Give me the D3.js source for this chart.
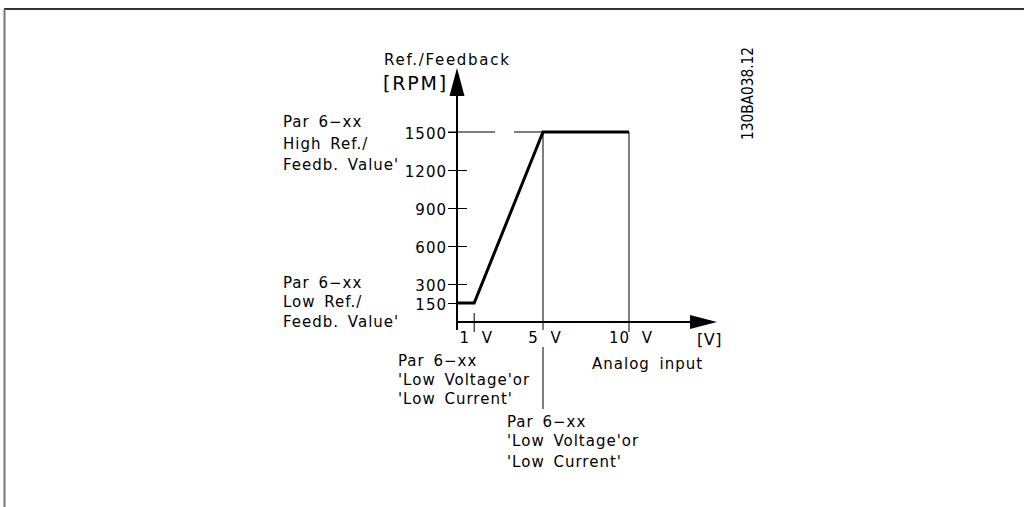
<!DOCTYPE html>
<html>
<head>
<meta charset="utf-8">
<script src="https://cdn.jsdelivr.net/npm/d3@7"></script>
<style>
  html, body { margin: 0; padding: 0; background: #fff; }
  svg { display: block; }
  text { font-family: "DejaVu Sans", sans-serif; fill: #000; }
</style>
</head>
<body>
<svg id="chart" width="1024" height="507"></svg>
<script>
// Reference / feedback scaling against analog input
const inputVolts = [0, 1, 5, 10];
const refRpm = [150, 150, 1500, 1500];
const yTickValues = [150, 300, 600, 900, 1200, 1500];
const yTickLabels = ["150", "300", "600", "900", "1200", "1500"];
const xTickValues = [1, 5, 10];
const xTickLabels = ["1 V", "5 V", "10 V"];
const highRefLabel = ["Par 6\u2212xx", "High Ref./", "Feedb. Value'"];
const lowRefLabel = ["Par 6\u2212xx", "Low Ref./", "Feedb. Value'"];
const lowInputLabel = ["Par 6\u2212xx", "'Low Voltage'or", "'Low Current'"];
const highInputLabel = ["Par 6\u2212xx", "'Low Voltage'or", "'Low Current'"];
const drawingId = "130BA038.12";

const svg = d3.select("#chart");

// frame
svg.append("line").attr("x1", 4).attr("y1", 9).attr("x2", 1024).attr("y2", 9)
  .attr("stroke", "#333").attr("stroke-width", 2);
svg.append("line").attr("x1", 4.5).attr("y1", 9).attr("x2", 4.5).attr("y2", 507)
  .attr("stroke", "#777").attr("stroke-width", 2);

const x = d3.scaleLinear().domain([0, 10]).range([457, 629]);
const y = d3.scaleLinear().domain([0, 1500]).range([322, 132]);

const g = svg.append("g");

// y axis with ticks crossing the axis line
const yAxis = d3.axisLeft(y).tickValues(yTickValues).tickSize(9).tickFormat((d, i) => yTickLabels[i]);
const ya = g.append("g").attr("transform", `translate(${x(0)},0)`).call(yAxis);
ya.select(".domain").remove();
ya.selectAll(".tick line").attr("x1", d => d === 150 ? 0 : 10).attr("stroke", "#000").attr("stroke-width", 1);
ya.selectAll(".tick text").attr("x", -10).attr("dy", "0.42em")
  .style("font-size", "15px").style("letter-spacing", "1px").style("font-family", "DejaVu Sans");
ya.selectAll(".tick").filter(d => d === 1500).select("line").attr("x1", 0);

// axis lines
g.append("line").attr("x1", x(0)).attr("x2", x(0)).attr("y1", 330).attr("y2", 92)
  .attr("stroke", "#000").attr("stroke-width", 2);
g.append("line").attr("x1", x(0) - 1).attr("x2", 695).attr("y1", y(0)).attr("y2", y(0))
  .attr("stroke", "#000").attr("stroke-width", 2);
// arrow heads
g.append("path").attr("d", `M${x(0)},68 L${x(0) + 7.5},96 L${x(0) - 7.5},96 Z`).attr("fill", "#000");
g.append("path").attr("d", `M717,${y(0)} L690,${y(0) - 7} L690,${y(0) + 7} Z`).attr("fill", "#000");

// 1500 guide line from the axis to the 5 V point
g.append("line").attr("x1", 448).attr("x2", x(5)).attr("y1", y(1500)).attr("y2", y(1500))
  .attr("stroke", "#000").attr("stroke-width", 1)
  .attr("stroke-dasharray", "47,19");

// x ticks
g.append("line").attr("x1", x(0)).attr("x2", x(0)).attr("y1", y(0)).attr("y2", 330)
  .attr("stroke", "#000").attr("stroke-width", 1);
g.append("line").attr("x1", x(1)).attr("x2", x(1)).attr("y1", 313).attr("y2", 332)
  .attr("stroke", "#000").attr("stroke-width", 1);
// 5 V guide: broken around its label
g.append("line").attr("x1", x(5)).attr("x2", x(5)).attr("y1", y(1500)).attr("y2", 330)
  .attr("stroke", "#000").attr("stroke-width", 1);
g.append("line").attr("x1", x(5)).attr("x2", x(5)).attr("y1", 347).attr("y2", 409)
  .attr("stroke", "#000").attr("stroke-width", 1);
// 10 V guide
g.append("line").attr("x1", x(10)).attr("x2", x(10)).attr("y1", y(1500)).attr("y2", 332)
  .attr("stroke", "#000").attr("stroke-width", 1);

g.selectAll("text.xt").data(xTickValues).enter().append("text")
  .attr("class", "xt")
  .attr("x", d => x(d) + 2).attr("y", 343)
  .attr("text-anchor", "middle")
  .style("font-size", "15px").style("letter-spacing", "1px").style("word-spacing", "6px")
  .text((d, i) => xTickLabels[i]);

// reference curve
const line = d3.line().x(d => x(d[0])).y(d => y(d[1]));
g.append("path")
  .datum(inputVolts.map((v, i) => [v, refRpm[i]]))
  .attr("d", line)
  .attr("fill", "none").attr("stroke", "#000").attr("stroke-width", 3)
  .attr("stroke-linejoin", "miter");

// axis titles
const txt = (t, px, py, size, opts = {}) => {
  const el = svg.append("text").attr("x", px).attr("y", py).text(t)
    .style("font-size", size + "px").style("letter-spacing", (opts.ls ?? 1) + "px")
    .style("word-spacing", (opts.ws ?? 3) + "px");
  if (opts.anchor) el.attr("text-anchor", opts.anchor);
  return el;
};
txt("Ref./Feedback", 384, 65, 15, { ls: 1.7 });
txt("[RPM]", 383, 90, 19, { ls: 1.8 });
txt("[V]", 697, 345, 16, { ls: 0.5 });
txt("Analog input", 592, 369, 15, { ws: 4 });

// parameter annotations
const block = (lines, px, baselines) => lines.forEach((t, i) => txt(t, px, baselines[i], 15));
block(highRefLabel, 283, [127, 149, 170]);
block(lowRefLabel, 283, [288, 307, 327]);
block(lowInputLabel, 398, [366, 385, 404]);
block(highInputLabel, 507, [427, 446, 467]);

// drawing number
svg.append("text")
  .attr("transform", "translate(753,140) rotate(-90)")
  .attr("textLength", 93).attr("lengthAdjust", "spacingAndGlyphs")
  .style("font-size", "15px")
  .text(drawingId);
</script>
</body>
</html>
